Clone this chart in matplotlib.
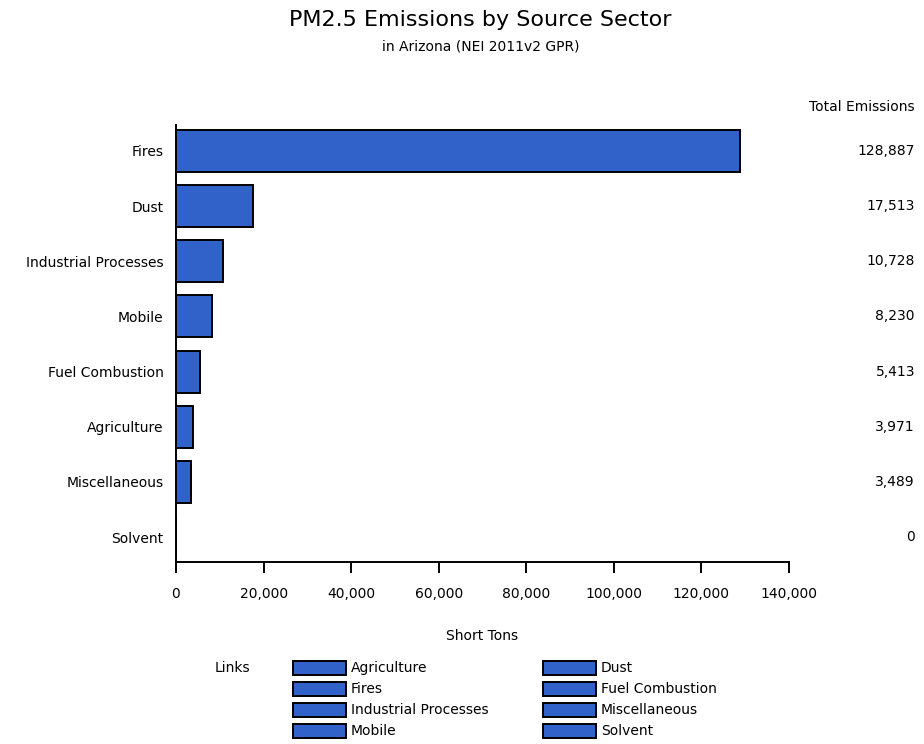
import matplotlib
matplotlib.use("Agg")
import matplotlib.pyplot as plt
from matplotlib.patches import Rectangle
from matplotlib.ticker import FuncFormatter

plt.rcParams["font.family"] = ["DejaVu Sans"]

# ── Data ────────────────────────────────────────────────────────────────────
sectors = ["Fires", "Dust", "Industrial Processes", "Mobile",
           "Fuel Combustion", "Agriculture", "Miscellaneous", "Solvent"]
emissions = [128887, 17513, 10728, 8230, 5413, 3971, 3489, 0]
x_ticks = [0, 20000, 40000, 60000, 80000, 100000, 120000, 140000]
legend_items = ["Agriculture", "Dust", "Fires", "Fuel Combustion",
                "Industrial Processes", "Miscellaneous", "Mobile", "Solvent"]

BAR_COLOR = "#3162c9"
W, H = 924, 744
FS = 10

fig = plt.figure(figsize=(W / 100, H / 100), dpi=100)
ax = fig.add_axes([176 / W, 1 - 562 / H, (789 - 176) / W, (562 - 125) / H])

ypos = list(range(len(sectors)))
ax.barh(ypos, emissions, height=0.76, color=BAR_COLOR,
        edgecolor="black", linewidth=1.4)

ax.set_xlim(0, 140000)
ax.set_ylim(7.45, -0.47)
ax.set_xticks(x_ticks)
ax.xaxis.set_major_formatter(FuncFormatter(lambda v, p: f"{int(v):,}"))
ax.set_yticks(ypos)
ax.set_yticklabels(sectors)
ax.tick_params(axis="y", length=0, pad=9, labelsize=FS)
ax.tick_params(axis="x", length=8, width=1.4, direction="out", pad=10, labelsize=FS)
for s in ("top", "right"):
    ax.spines[s].set_visible(False)
for s in ("left", "bottom"):
    ax.spines[s].set_linewidth(1.4)
ax.set_xlabel("Short Tons", fontsize=FS, labelpad=20)

# total emissions column
fig.text(915 / W, 1 - 107 / H, "Total Emissions", ha="right", va="center", fontsize=FS)
for i, v in enumerate(emissions):
    ax.annotate(f"{v:,}", xy=(1, i), xycoords=("axes fraction", "data"),
                xytext=(915 - 789, 0), textcoords="offset pixels",
                ha="right", va="center", fontsize=FS)

# titles
fig.text(0.52, 1 - 20 / H, "PM2.5 Emissions by Source Sector",
         ha="center", va="center", fontsize=16)
fig.text(0.52, 1 - 46 / H, "in Arizona (NEI 2011v2 GPR)",
         ha="center", va="center", fontsize=10)

# legend block
fig.text(215 / W, 1 - 668 / H, "Links", ha="left", va="center", fontsize=FS)
col_x = [293, 543]
row_y = [668, 689, 710, 731]
for k, name in enumerate(legend_items):
    cx = col_x[k % 2]
    cy = row_y[k // 2]
    fig.patches.append(Rectangle((cx / W, 1 - (cy + 7) / H), 53 / W, 14 / H,
                                 transform=fig.transFigure, facecolor=BAR_COLOR,
                                 edgecolor="black", linewidth=1.4))
    fig.text((cx + 58) / W, 1 - cy / H, name, ha="left", va="center", fontsize=FS)

fig.savefig("out.png", dpi=100)
